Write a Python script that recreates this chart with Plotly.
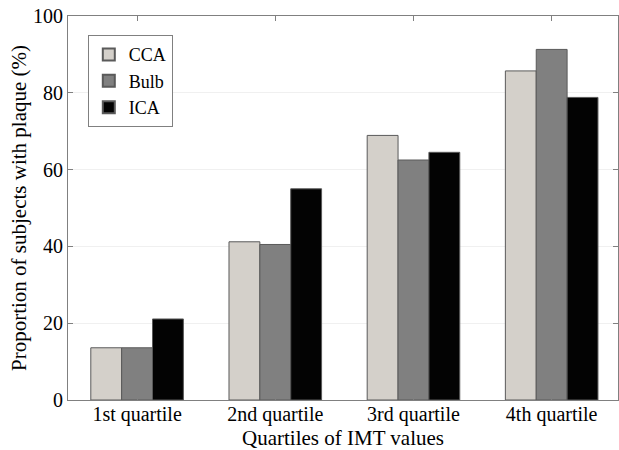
import plotly.graph_objects as go

categories = ["1st quartile", "2nd quartile", "3rd quartile", "4th quartile"]
cca = [13.6, 41.2, 68.9, 85.7]
bulb = [13.6, 40.5, 62.5, 91.3]
ica = [21.1, 55.0, 64.5, 78.8]
series_names = ["CCA", "Bulb", "ICA"]
colors = ["#d4d0ca", "#808080", "#030303"]

FONT = "Liberation Serif, Times New Roman, serif"

fig = go.Figure()
for name, vals, col in zip(series_names, [cca, bulb, ica], colors):
    fig.add_trace(go.Bar(
        x=list(range(len(categories))), y=vals, name=name,
        marker=dict(color=col, line=dict(color="#5a5a5a", width=1)),
    ))

fig.update_layout(
    width=619, height=450,
    margin=dict(l=68, r=1, t=16, b=50),
    paper_bgcolor="white", plot_bgcolor="white",
    barmode="group", bargap=0.33, bargroupgap=0,
    font=dict(family=FONT, size=20, color="black"),
    legend=dict(
        x=0.036, y=0.95, xanchor="left", yanchor="top",
        bordercolor="#808080", borderwidth=1, bgcolor="white",
        font=dict(family=FONT, size=18), tracegroupgap=0,
        itemsizing="constant", itemwidth=30,
    ),
    showlegend=True,
)
fig.update_xaxes(
    range=[-0.5, 3.48], tickmode="array",
    tickvals=list(range(len(categories))), ticktext=categories,
    ticks="inside", ticklen=5, tickcolor="#808080",
    showline=True, linecolor="#808080", linewidth=1, mirror="ticks",
    showgrid=False, zeroline=False, automargin=False,
    ticklabelstandoff=-4,
    title=dict(text="Quartiles of IMT values", standoff=0, font=dict(size=21)),
    tickfont=dict(size=20),
)
fig.update_yaxes(
    range=[0, 100], tickvals=[0, 20, 40, 60, 80, 100],
    ticks="inside", ticklen=5, tickcolor="#808080",
    showline=True, linecolor="#808080", linewidth=1, mirror="ticks",
    showgrid=True, gridcolor="#f0f0f0", gridwidth=1, zeroline=False, automargin=False,
    ticklabeloverflow="allow",
    title=dict(text="Proportion of subjects with plaque (%)", standoff=0, font=dict(size=21)),
    tickfont=dict(size=20),
)

fig.write_html("out.html", config={"displayModeBar": False},
               post_script="document.body.style.margin='0';")
